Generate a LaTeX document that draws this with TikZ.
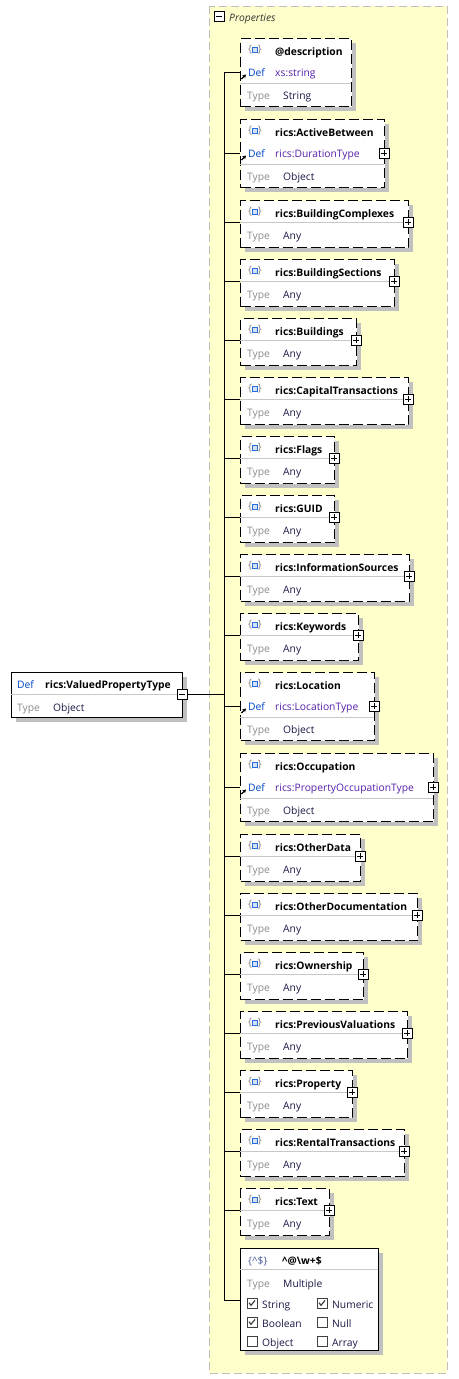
\documentclass[tikz,border=0pt]{standalone}
\usepackage{fontspec}
\setmainfont{Open Sans}
\usetikzlibrary{arrows.meta,shadows}

\definecolor{panelfill}{RGB}{255,255,204}
\definecolor{panelline}{RGB}{190,190,190}
\definecolor{shadowgray}{RGB}{192,192,192}
\definecolor{rowgray}{RGB}{200,200,200}
\definecolor{typegray}{RGB}{140,140,140}
\definecolor{valnavy}{RGB}{25,25,70}
\definecolor{defblue}{RGB}{0,70,200}
\definecolor{refpurple}{RGB}{85,30,170}
\definecolor{iconblue}{RGB}{40,110,220}
\definecolor{regexblue}{RGB}{70,90,160}

\newcommand{\fnt}{\fontsize{10.3}{12}\selectfont}

\tikzset{
  txt/.style={anchor=west,inner sep=0pt,text height=7.6pt,text depth=2.2pt,yshift=-2.5pt,font=\fnt},
  namelbl/.style={txt,font=\fnt\bfseries,text=black},
  typelbl/.style={txt,text=typegray},
  vallbl/.style={txt,text=valnavy},
  deflbl/.style={txt,text=defblue},
  reflbl/.style={txt,text=refpurple},
  iconbrace/.style={inner sep=0pt,text=gray,font=\fnt},
  link/.style={line width=1pt},
  rowline/.style={draw=rowgray,line width=1pt},
  defarrow/.style={-{Stealth[length=3.5pt,width=4pt]},line width=1.2pt},
  boxshadow/.style={drop shadow={shadow xshift=4pt,shadow yshift=-4pt,fill=shadowgray,opacity=1}},
  propbox/.style={draw=black,fill=white,line width=1pt,dash pattern=on 10pt off 4pt,
    anchor=north west,inner sep=0pt,boxshadow},
  solidbox/.style={draw=black,fill=white,line width=1pt,anchor=north west,inner sep=0pt,boxshadow},
  collapser/.style={draw=black,fill=white,line width=0.8pt,minimum size=10pt,inner sep=0pt,
    path picture={\draw[line width=0.8pt] ([xshift=2pt]path picture bounding box.west)
      -- ([xshift=-2pt]path picture bounding box.east);}},
  expander/.style={collapser,
    append after command={[line width=0.8pt] ([yshift=-2pt]\tikzlastnode.north)
      edge ([yshift=2pt]\tikzlastnode.south)}},
  chkbox/.style={draw=black!75,fill=white,line width=0.8pt,minimum size=10pt,inner sep=0pt},
  ticked/.style={chkbox,path picture={\draw[line width=1.2pt]
      ([shift={(-3pt,0.3pt)}]path picture bounding box.center)
      -- ([shift={(-1pt,-2.3pt)}]path picture bounding box.center)
      -- ([shift={(3pt,2.6pt)}]path picture bounding box.center);}},
  propicon/.pic={
    \node[iconbrace] {\{\hspace{6pt}\}};
    \draw[iconblue,fill=iconblue!20,line width=1pt] (-2.8,-2.2) rectangle (2.8,2.2);
  }
}

% property box with Type Any (two rows)
\newcommand{\anyprop}[4]{%
  \node[propbox,minimum width={(#3-240)*1pt},minimum height=47pt] (#1) at (240,#2) {};
  \draw[rowline] (240,#2+22) -- (#3,#2+22);
  \pic at (255,#2+12) {propicon};
  \node[namelbl] at (275,#2+12) {#4};
  \node[typelbl] at (247,#2+34) {Type};
  \node[vallbl] at (283,#2+34) {Any};
  \node[expander] (#1x) at (#3,#2+22) {};
  \coordinate (#1t) at (224,#2+22);
  \draw[link] (#1t) -- (#1t -| #1.west);
}

% property box with a Def row (three rows)
\newcommand{\defprop}[6]{%
  \node[propbox,minimum width={(#3-240)*1pt},minimum height=68pt] (#1) at (240,#2) {};
  \draw[rowline] (240,#2+45) -- (#3,#2+45);
  \pic at (255,#2+12) {propicon};
  \node[namelbl] at (275,#2+12) {#4};
  \node[deflbl] at (248,#2+33) {Def};
  \node[reflbl] at (275,#2+33) {#5};
  \draw[defarrow] (241.5,#2+41) -- (246,#2+36.5);
  \node[typelbl] at (247,#2+56) {Type};
  \node[vallbl] at (283,#2+56) {#6};
  \coordinate (#1t) at (224,#2+34);
  \draw[link] (#1t) -- (#1t -| #1.west);
}

\begin{document}
\begin{tikzpicture}[x=1pt,y=-1pt]
  \useasboundingbox (0,0) rectangle (458,1379);

  % properties panel
  \draw[fill=panelfill,draw=panelline,line width=1pt,dash pattern=on 8pt off 4pt]
    (209,6) rectangle (447,1373);
  \node[collapser] (propx) at (219,16) {};
  \node[txt,font=\fnt\itshape,text=black!80] (proptitle) at (229,16) {Properties};

  % root type
  \node[solidbox,minimum width=171pt,minimum height=45pt] (root) at (11,672) {};
  \draw[rowline] (11,694) -- (182,694);
  \node[deflbl] at (17,683) {Def};
  \node[namelbl] at (45,683) {rics:ValuedPropertyType};
  \node[typelbl] at (17,706) {Type};
  \node[vallbl] at (53,706) {Object};
  \node[collapser] (rootx) at (182,694) {};

  % trunk
  \coordinate (ttop) at (224,72);
  \coordinate (tmid) at (224,694);
  \coordinate (tbot) at (224,1300);
  \draw[link] (ttop) -- (tbot);
  \draw[link] (rootx) -- (tmid);

  % properties
  \defprop{descr}{38}{351}{@description}{xs:string}{String}
  \defprop{active}{119}{384}{rics:ActiveBetween}{rics:DurationType}{Object}
  \node[expander] (activex) at (384,153) {};
  \anyprop{complexes}{200}{408}{rics:BuildingComplexes}
  \anyprop{sections}{259}{394}{rics:BuildingSections}
  \anyprop{buildings}{318}{356}{rics:Buildings}
  \anyprop{capital}{377}{408}{rics:CapitalTransactions}
  \anyprop{flags}{436}{334}{rics:Flags}
  \anyprop{guid}{495}{334}{rics:GUID}
  \anyprop{sources}{554}{409}{rics:InformationSources}
  \anyprop{keywords}{613}{358}{rics:Keywords}
  \defprop{location}{672}{374}{rics:Location}{rics:LocationType}{Object}
  \node[expander] (locationx) at (374,706) {};
  \defprop{occupation}{753}{433}{rics:Occupation}{rics:PropertyOccupationType}{Object}
  \node[expander] (occupationx) at (433,787) {};
  \anyprop{otherdata}{834}{360}{rics:OtherData}
  \anyprop{otherdoc}{893}{417}{rics:OtherDocumentation}
  \anyprop{ownership}{952}{363}{rics:Ownership}
  \anyprop{previous}{1011}{407}{rics:PreviousValuations}
  \anyprop{property}{1070}{352}{rics:Property}
  \anyprop{rental}{1129}{404}{rics:RentalTransactions}
  \anyprop{text}{1188}{329}{rics:Text}

  % pattern properties
  \node[solidbox,minimum width=138pt,minimum height=102pt] (pattern) at (240,1248) {};
  \draw[rowline] (240,1269) -- (378,1269);
  \node[txt,text=regexblue] (regexicon) at (248,1259) {\{\textasciicircum\$\}};
  \node[namelbl] at (282,1259) {\textasciicircum @\textbackslash w+\$};
  \node[typelbl] at (247,1282) {Type};
  \node[vallbl] at (283,1282) {Multiple};
  \node[ticked] (cstring) at (252,1303) {};
  \node[txt,text=valnavy] at (262,1303) {String};
  \node[ticked] (cnumeric) at (322,1303) {};
  \node[txt,text=valnavy] at (332,1303) {Numeric};
  \node[ticked] (cboolean) at (252,1322) {};
  \node[txt,text=valnavy] at (262,1322) {Boolean};
  \node[chkbox] (cnull) at (322,1322) {};
  \node[txt,text=valnavy] at (332,1322) {Null};
  \node[chkbox] (cobject) at (252,1341) {};
  \node[txt,text=valnavy] at (262,1341) {Object};
  \node[chkbox] (carray) at (322,1341) {};
  \node[txt,text=valnavy] at (332,1341) {Array};
  \draw[link] (tbot) -- (tbot -| pattern.west);
\end{tikzpicture}
\end{document}
